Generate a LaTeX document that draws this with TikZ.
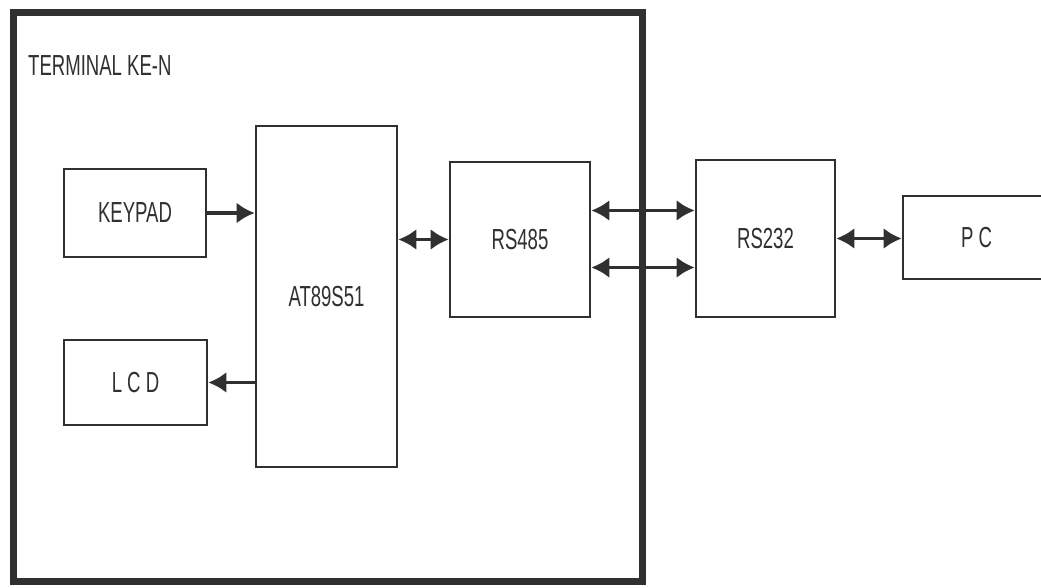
\documentclass[tikz,border=0pt]{standalone}
\usepackage{fontspec}
\setmainfont[FakeStretch=0.64]{Liberation Sans}
\usetikzlibrary{arrows.meta}
\definecolor{ink}{HTML}{303030}
\tikzset{
  blk/.style={draw=ink, line width=2.6pt, rectangle, inner sep=0pt, text=ink, font=\fontsize{29}{31}\selectfont},
  frame/.style={draw=ink, line width=7pt},
  tip/.tip={Latex[length=18pt,width=21pt]},
  arr/.style={draw=ink, line width=3.8pt, -tip},
  barr/.style={draw=ink, line width=3.8pt, tip-tip}
}
\begin{document}
\begin{tikzpicture}[x=1pt,y=-1pt]
\useasboundingbox (0,0) rectangle (1041,588);
\clip (0,0) rectangle (1041,588);
\fill[white] (0,0) rectangle (1041,588);
% outer terminal frame
\draw[frame] (13,13) rectangle (642,581);
\node[anchor=west, text=ink, font=\fontsize{29}{31}\selectfont, inner sep=0pt] (title) at (28,66) {TERMINAL KE-N};
% blocks
\node[blk, minimum width=142, minimum height=88] (keypad) at (135,213) {KEYPAD};
\node[blk, minimum width=143, minimum height=85] (lcd) at (135.5,382.5) {L C D};
\node[blk, minimum width=141, minimum height=341] (mcu) at (326.5,296.5) {AT89S51};
\node[blk, minimum width=140, minimum height=155] (rs485) at (520,239.5) {RS485};
\node[blk, minimum width=139, minimum height=157] (rs232) at (765.5,238.5) {RS232};
\node[blk, minimum width=147, minimum height=83] (pc) at (976.5,237.5) {P C};
% connectors
\draw[arr] (keypad.east) -- (keypad.east -| mcu.west);
\draw[arr] (mcu.west |- lcd.east) -- (lcd.east);
\draw[barr] (mcu.east |- rs485.west) -- (rs485.west);
\draw[barr] ([yshift=-28pt]rs485.east) -- ([yshift=-28pt]rs485.east -| rs232.west);
\draw[barr] ([yshift=29pt]rs485.east) -- ([yshift=29pt]rs485.east -| rs232.west);
\draw[barr] (rs232.east) -- (rs232.east -| pc.west);
\end{tikzpicture}
\end{document}
